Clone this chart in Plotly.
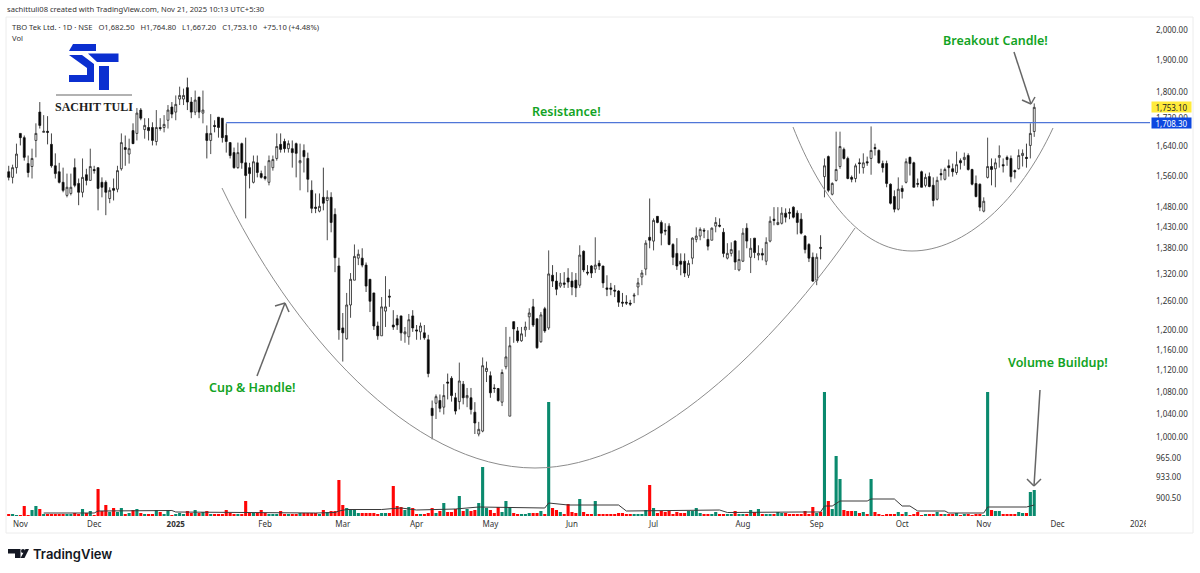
import math
import plotly.graph_objects as go

# daily bars (bar number is used as x so weekends don't leave gaps)
opens = [
    1571, 1556, 1582, 1677, 1665, 1593, 1585, 1657, 1739, 1680,
    1683, 1646, 1587, 1571, 1543, 1509, 1514, 1582, 1540, 1517,
    1563, 1548, 1577, 1582, 1543, 1543, 1501, 1527, 1525, 1579,
    1637, 1619, 1685, 1677, 1745, 1688, 1694, 1694, 1654, 1694,
    1694, 1715, 1754, 1739, 1778, 1778, 1813, 1769, 1739, 1784,
    1736, 1677, 1657, 1700, 1724, 1721, 1671, 1651, 1623, 1582,
    1648, 1595, 1582, 1543, 1595, 1566, 1558, 1543, 1582, 1607,
    1646, 1654, 1634, 1634, 1648, 1595, 1629, 1607, 1522, 1479,
    1469, 1504, 1496, 1504, 1461, 1338, 1204, 1182, 1252, 1306,
    1356, 1356, 1340, 1308, 1278, 1208, 1188, 1239, 1271, 1210,
    1223, 1229, 1192, 1186, 1229, 1200, 1196, 1194, 1180, 1050,
    1059, 1064, 1052, 1098, 1105, 1069, 1062, 1094, 1069, 1069,
    1043, 1005, 1010, 1118, 1110, 1087, 1086, 1061, 1127, 1036,
    1217, 1198, 1178, 1200, 1227, 1248, 1223, 1176, 1244, 1204,
    1317, 1304, 1293, 1300, 1311, 1304, 1306, 1295, 1372, 1324,
    1338, 1331, 1344, 1338, 1289, 1289, 1284, 1282, 1258, 1258,
    1256, 1271, 1291, 1313, 1331, 1405, 1396, 1456, 1441, 1422,
    1432, 1388, 1367, 1349, 1349, 1317, 1356, 1400, 1408, 1422,
    1400, 1398, 1432, 1434, 1417, 1356, 1367, 1396, 1329, 1349,
    1427, 1358, 1403, 1363, 1367, 1349, 1396, 1449, 1436, 1439,
    1464, 1466, 1479, 1464, 1449, 1408, 1388, 1358, 1306, 1381,
    1558, 1612, 1512, 1548, 1585, 1632, 1607, 1556, 1553, 1595,
    1582, 1598, 1607, 1637, 1629, 1593, 1593, 1538, 1506, 1474,
    1527, 1543, 1610, 1595, 1540, 1571, 1535, 1558, 1535, 1499,
    1566, 1551, 1587, 1579, 1569, 1601, 1604, 1615, 1577, 1540,
    1538, 1469, 1556, 1585, 1579, 1610, 1590, 1610, 1607, 1574,
    1579, 1615, 1610, 1643, 1682.5,
]
highs = [
    1587, 1590, 1648, 1677, 1671, 1615, 1634, 1706, 1769, 1730,
    1727, 1677, 1621, 1595, 1582, 1566, 1566, 1607, 1553, 1607,
    1579, 1634, 1587, 1582, 1556, 1548, 1530, 1553, 1587, 1677,
    1671, 1662, 1706, 1751, 1751, 1721, 1721, 1709, 1745, 1721,
    1730, 1760, 1769, 1789, 1816, 1810, 1844, 1784, 1804, 1784,
    1804, 1700, 1733, 1715, 1724, 1721, 1706, 1651, 1637, 1651,
    1651, 1665, 1595, 1615, 1615, 1574, 1587, 1615, 1615, 1677,
    1677, 1662, 1657, 1657, 1651, 1648, 1646, 1623, 1548, 1514,
    1514, 1582, 1522, 1517, 1476, 1357, 1235, 1278, 1322, 1388,
    1376, 1379, 1346, 1308, 1278, 1217, 1269, 1315, 1286, 1241,
    1231, 1229, 1206, 1233, 1241, 1210, 1215, 1210, 1190, 1064,
    1075, 1075, 1094, 1114, 1109, 1078, 1135, 1100, 1087, 1087,
    1061, 1026, 1145, 1137, 1118, 1094, 1087, 1122, 1206, 1186,
    1217, 1206, 1206, 1217, 1245, 1265, 1223, 1237, 1248, 1374,
    1340, 1324, 1322, 1324, 1333, 1324, 1322, 1386, 1374, 1340,
    1340, 1405, 1351, 1338, 1317, 1300, 1295, 1284, 1278, 1273,
    1263, 1278, 1311, 1329, 1398, 1501, 1451, 1456, 1446, 1439,
    1439, 1391, 1403, 1367, 1367, 1351, 1405, 1429, 1429, 1427,
    1422, 1429, 1454, 1451, 1427, 1391, 1393, 1398, 1374, 1427,
    1439, 1403, 1403, 1386, 1379, 1405, 1456, 1479, 1479, 1479,
    1476, 1476, 1481, 1471, 1464, 1410, 1391, 1369, 1367, 1410,
    1607, 1615, 1543, 1682, 1682, 1637, 1612, 1561, 1593, 1607,
    1621, 1612, 1697, 1648, 1632, 1601, 1601, 1540, 1522, 1556,
    1535, 1607, 1612, 1598, 1553, 1574, 1566, 1569, 1556, 1558,
    1579, 1582, 1604, 1593, 1626, 1607, 1623, 1621, 1579, 1561,
    1540, 1504, 1665, 1607, 1607, 1643, 1607, 1615, 1615, 1577,
    1632, 1632, 1648, 1706, 1764.8,
]
lows = [
    1548, 1540, 1566, 1643, 1601, 1556, 1553, 1610, 1691, 1680,
    1646, 1582, 1553, 1540, 1517, 1504, 1509, 1530, 1484, 1504,
    1535, 1548, 1566, 1471, 1504, 1459, 1489, 1496, 1517, 1574,
    1587, 1593, 1657, 1657, 1715, 1662, 1657, 1643, 1643, 1685,
    1680, 1691, 1721, 1715, 1760, 1760, 1745, 1721, 1730, 1721,
    1706, 1607, 1619, 1680, 1665, 1651, 1623, 1607, 1579, 1579,
    1579, 1451, 1527, 1540, 1556, 1553, 1548, 1535, 1574, 1601,
    1623, 1623, 1623, 1582, 1556, 1522, 1569, 1517, 1464, 1464,
    1466, 1471, 1398, 1417, 1324, 1180, 1137, 1180, 1225, 1306,
    1340, 1335, 1280, 1237, 1200, 1180, 1188, 1206, 1248, 1200,
    1200, 1178, 1174, 1170, 1196, 1180, 1180, 1180, 1107, 996,
    1031, 1043, 1039, 1066, 1062, 1039, 1048, 1057, 1052, 1039,
    1005, 1001, 1008, 1098, 1069, 1078, 1062, 1054, 1122, 1036,
    1174, 1174, 1176, 1186, 1200, 1206, 1162, 1174, 1194, 1200,
    1291, 1273, 1289, 1289, 1289, 1273, 1269, 1289, 1324, 1317,
    1311, 1322, 1329, 1289, 1271, 1273, 1269, 1248, 1248, 1252,
    1250, 1256, 1273, 1295, 1317, 1379, 1374, 1439, 1386, 1410,
    1386, 1340, 1329, 1317, 1313, 1311, 1342, 1393, 1398, 1403,
    1374, 1398, 1417, 1429, 1358, 1353, 1360, 1329, 1326, 1347,
    1379, 1322, 1356, 1351, 1351, 1340, 1393, 1434, 1434, 1436,
    1441, 1449, 1451, 1412, 1412, 1367, 1347, 1302, 1295, 1353,
    1504, 1517, 1509, 1545, 1579, 1604, 1551, 1543, 1543, 1566,
    1566, 1587, 1563, 1615, 1593, 1569, 1530, 1486, 1466, 1471,
    1501, 1540, 1561, 1530, 1530, 1530, 1530, 1530, 1481, 1496,
    1548, 1548, 1558, 1558, 1563, 1577, 1587, 1574, 1535, 1504,
    1469, 1466, 1553, 1535, 1530, 1582, 1569, 1587, 1543, 1553,
    1577, 1585, 1582, 1607, 1667.2,
]
closes = [
    1556, 1582, 1619, 1665, 1610, 1569, 1607, 1677, 1700, 1683,
    1680, 1587, 1566, 1543, 1522, 1530, 1530, 1535, 1517, 1556,
    1548, 1585, 1574, 1527, 1530, 1517, 1522, 1522, 1574, 1651,
    1632, 1634, 1648, 1736, 1721, 1700, 1685, 1657, 1694, 1691,
    1703, 1745, 1733, 1762, 1789, 1789, 1769, 1739, 1775, 1739,
    1745, 1657, 1677, 1697, 1694, 1665, 1654, 1615, 1582, 1623,
    1595, 1561, 1566, 1598, 1569, 1556, 1553, 1601, 1604, 1640,
    1632, 1634, 1648, 1623, 1621, 1601, 1612, 1551, 1476, 1476,
    1481, 1489, 1504, 1441, 1357, 1200, 1194, 1252, 1308, 1360,
    1365, 1340, 1293, 1260, 1208, 1188, 1248, 1248, 1269, 1206,
    1210, 1194, 1196, 1221, 1204, 1198, 1208, 1184, 1114, 1037,
    1071, 1050, 1073, 1096, 1073, 1045, 1100, 1069, 1073, 1048,
    1024, 1013, 1129, 1124, 1078, 1086, 1064, 1116, 1146, 1168,
    1202, 1178, 1192, 1206, 1235, 1210, 1164, 1231, 1198, 1320,
    1304, 1286, 1300, 1297, 1302, 1291, 1289, 1363, 1329, 1322,
    1322, 1340, 1338, 1300, 1286, 1286, 1282, 1258, 1256, 1256,
    1254, 1273, 1300, 1322, 1391, 1398, 1446, 1441, 1415, 1420,
    1388, 1358, 1338, 1342, 1322, 1344, 1403, 1408, 1424, 1420,
    1384, 1427, 1441, 1432, 1367, 1367, 1376, 1347, 1353, 1415,
    1396, 1379, 1369, 1367, 1363, 1393, 1444, 1446, 1441, 1464,
    1454, 1464, 1454, 1441, 1415, 1376, 1356, 1304, 1358, 1379,
    1587, 1522, 1540, 1577, 1640, 1607, 1553, 1551, 1587, 1593,
    1595, 1595, 1629, 1634, 1595, 1582, 1540, 1489, 1474, 1525,
    1519, 1598, 1593, 1530, 1538, 1530, 1556, 1532, 1496, 1548,
    1563, 1577, 1582, 1571, 1590, 1595, 1610, 1577, 1538, 1506,
    1479, 1494, 1585, 1577, 1595, 1615, 1587, 1604, 1558, 1571,
    1615, 1621, 1607, 1677, 1753.1,
]
# volume in lakh shares (only the relative heights can be read, the pane has no scale)
volume = [
    2, 2, 1, 1, 10, 1, 6, 10, 7, 2,
    2, 2, 2, 2, 2, 2, 2, 3, 2, 7,
    3, 5, 1, 27, 5, 11, 4, 8, 4, 8,
    2, 3, 6, 7, 3, 2, 2, 2, 6, 4,
    2, 6, 1, 2, 3, 2, 5, 3, 6, 3,
    4, 5, 2, 2, 2, 2, 6, 3, 2, 2,
    2, 15, 3, 3, 3, 6, 3, 2, 2, 2,
    5, 2, 2, 2, 2, 3, 3, 3, 3, 3,
    2, 6, 4, 5, 5, 36, 11, 8, 7, 6,
    3, 3, 3, 3, 3, 2, 3, 3, 3, 30,
    10, 9, 6, 9, 8, 2, 2, 2, 3, 8,
    3, 5, 13, 4, 4, 7, 20, 5, 7, 5,
    6, 13, 49, 8, 6, 3, 9, 4, 15, 9,
    3, 2, 2, 2, 3, 3, 3, 5, 2, 114,
    8, 6, 4, 2, 12, 4, 3, 17, 4, 2,
    2, 15, 2, 2, 2, 2, 2, 3, 3, 2,
    2, 2, 2, 2, 6, 31, 8, 3, 5, 4,
    5, 2, 4, 3, 3, 5, 5, 8, 3, 2,
    2, 2, 4, 2, 2, 2, 2, 5, 2, 2,
    2, 6, 4, 7, 2, 2, 2, 2, 4, 3,
    3, 2, 2, 2, 2, 5, 2, 9, 3, 4,
    124, 15, 7, 60, 37, 6, 5, 5, 5, 3,
    4, 2, 37, 4, 2, 1, 2, 2, 2, 4,
    2, 4, 1, 2, 4, 1, 2, 2, 2, 4,
    2, 2, 2, 2, 3, 1, 2, 2, 1, 2,
    2, 1, 124, 6, 5, 5, 2, 2, 2, 2,
    4, 3, 3, 24, 26,
]
# volume average line, read at the bars where it bends
vol_ma_bar = [9, 22, 23, 38, 42, 43, 58, 66, 71, 79, 84, 85, 87, 96, 99, 101, 105, 115, 121, 135,
              138, 139, 141, 144, 157, 159, 183, 185, 204, 209, 210, 212, 214, 221, 222, 228, 230,
              232, 234, 241, 242, 251, 252, 262, 264]
vol_ma = [3, 3, 5, 5, 5.5, 4, 3.5, 3.5, 3, 3, 3.5, 5, 6.5, 6.5, 7.5, 8, 6, 7, 9, 8.5,
          8, 13, 12, 11, 11, 5, 6, 3.5, 4, 4, 10, 10, 15, 15, 17, 17, 10,
          10, 5, 5, 3, 3, 9, 9, 11]

month_bars = [3, 22, 43, 66, 86, 105, 124, 145, 166, 189, 208, 230, 251, 270, 291]
month_labels = ['Nov', 'Dec', '<b>2025</b>', 'Feb', 'Mar', 'Apr', 'May', 'Jun', 'Jul', 'Aug',
                'Sep', 'Oct', 'Nov', 'Dec', '2026']
price_ticks = [2000, 1900, 1800, 1720, 1640, 1560, 1480, 1430, 1380, 1320, 1260, 1200, 1160,
               1120, 1080, 1040, 1000, 965, 933, 900.5]
resistance_bars = [56, 293.8]
resistance = [1708.30, 1708.30]
last_close = 1753.10

W, H = 1200, 573
GREEN = '#12a324'
ARROW = '#666666'
LOGO = '#0b2fd0'
GAP = '\u00a0\u00a0\u00a0'


# drawings and text on the picture are placed by window pixel
def px(x):
    return x / W


def py(y):
    return 1 - y / H


def path(points):
    return 'M ' + ' L '.join(f'{px(x)} {py(y)}' for x, y in points) + ' Z'


def curve(start, c1, c2, end):
    pts = [start, c1, c2, end]
    s = [f'{px(x)} {py(y)}' for x, y in pts]
    return f'M {s[0]} C {s[1]} {s[2]} {s[3]}'


def line(x0, y0, x1, y1, color=ARROW, width=1.5):
    return dict(type='line', xref='paper', yref='paper', x0=px(x0), y0=py(y0), x1=px(x1), y1=py(y1),
                line=dict(color=color, width=width))


def blob(points, color):
    return dict(type='path', xref='paper', yref='paper', path=path(points),
                fillcolor=color, line=dict(width=0))


def label(text, x, y, size, color='#333333', family='Noto Sans', anchor='left', **kw):
    return dict(text=text, x=px(x), y=py(y), xref='paper', yref='paper', showarrow=False,
                xanchor=anchor, yanchor='middle', font=dict(size=size, color=color, family=family, **kw))


fig = go.Figure()

fig.add_trace(go.Bar(
    x=list(range(len(volume))),
    y=volume,
    yaxis='y2',
    width=0.8,
    marker=dict(color=['#0a8a6e' if c >= o else '#ff0505' for o, c in zip(opens, closes)], line=dict(width=0)),
))
fig.add_trace(go.Scatter(x=vol_ma_bar, y=vol_ma, yaxis='y2', mode='lines', line=dict(color='#3a3a3a', width=1)))

fig.add_trace(go.Scatter(x=resistance_bars, y=resistance, mode='lines', line=dict(color='#4f76d8', width=1.2)))

fig.add_trace(go.Candlestick(
    x=list(range(len(opens))),
    open=opens,
    high=highs,
    low=lows,
    close=closes,
    whiskerwidth=0,
    increasing=dict(line=dict(color='#222222', width=0.8), fillcolor='#ffffff'),
    decreasing=dict(line=dict(color='#111111', width=0.8), fillcolor='#000000'),
))

shapes = [
    # chart frame
    dict(type='rect', xref='paper', yref='paper', x0=px(6), y0=py(17), x1=px(1193), y1=py(533),
         line=dict(color='#ececec', width=1), layer='below'),
    # cup and handle outlines
    dict(type='path', xref='paper', yref='paper', line=dict(color='#8c8c8c', width=1),
         path=curve((222, 188), (290, 330), (410, 468), (535, 468))),
    dict(type='path', xref='paper', yref='paper', line=dict(color='#8c8c8c', width=1),
         path=curve((535, 468), (650, 468), (775, 345), (855, 228))),
    dict(type='path', xref='paper', yref='paper', line=dict(color='#8c8c8c', width=1),
         path=curve((793, 127), (820, 195), (860, 251), (912, 251))),
    dict(type='path', xref='paper', yref='paper', line=dict(color='#8c8c8c', width=1),
         path=curve((912, 251), (965, 251), (1020, 200), (1053, 128))),
    # arrows
    line(257, 376, 285, 303), line(275, 306, 285, 303), line(289, 312, 285, 303),
    line(1014, 52, 1031, 104), line(1022, 100, 1031, 104), line(1035, 97, 1031, 104),
    line(1040, 390, 1034, 486), line(1027, 479, 1034, 486), line(1041, 479, 1034, 486),
    # hides the end of the clipped 2026 label
    dict(type='rect', xref='paper', yref='paper', x0=px(1146), y0=py(518), x1=px(1192), y1=py(531),
         fillcolor='#ffffff', line=dict(width=0), layer='above'),
    # ST logo
    blob([(73, 44), (96, 44), (96, 51), (69, 51)], LOGO),
    blob([(69, 55), (82, 55), (94, 64), (94, 82), (69, 82), (69, 75), (87, 75), (87, 68)], LOGO),
    blob([(88, 53.5), (118.5, 53.5), (118.5, 62), (97, 62)], LOGO),
    blob([(99, 66), (109, 66), (109, 90), (99, 90)], LOGO),
    line(56, 95, 132, 95, color='#999999', width=1.6),
    # TradingView logo
    blob([(8, 549), (20.5, 549), (20.5, 558), (15, 558), (15, 553.5), (8, 553.5)], '#131722'),
    dict(type='circle', xref='paper', yref='paper', x0=px(21), y0=py(549), x1=px(25), y1=py(553),
         fillcolor='#131722', line=dict(width=0)),
    blob([(25.5, 549), (29, 549), (24.5, 558), (20.5, 558)], '#131722'),
]

annotations = [
    label('sachittuli08 created with TradingView.com, Nov 21, 2025 10:13 UTC+5:30', 5, 9.5, 7.6),
    label(f'TBO Tek Ltd. · 1D · NSE{GAP}O1,682.50{GAP}H1,764.80{GAP}L1,667.20{GAP}C1,753.10{GAP}+75.10 (+4.48%)',
          10, 27, 7.6),
    label('Vol', 10, 38, 7.6),
    label('SACHIT TULI', 94, 107, 12, color='#1c1c1c', family='Liberation Serif', anchor='center', weight='bold'),
    label('Breakout Candle!', 995, 40, 12.5, color=GREEN, anchor='center', weight=600),
    label('Resistance!', 566, 111, 12.5, color=GREEN, anchor='center', weight=600),
    label('Cup &amp; Handle!', 252, 387, 12.5, color=GREEN, anchor='center', weight=600),
    label('Volume Buildup!', 1058, 362, 12.5, color=GREEN, anchor='center', weight=600),
    label('TradingView', 31, 553.5, 13, color='#131722', family='Inter', weight=600),
    # last price and level tags on the price scale
    dict(text=f'{last_close:,.2f}', x=px(1151), y=math.log10(last_close), xref='paper', yref='y', showarrow=False,
         xanchor='left', yanchor='middle', width=39, height=10, borderpad=0, align='center', bgcolor='#ffeb3b',
         font=dict(size=8, color='#222222', family='Noto Sans')),
    dict(text=f'{resistance[0]:,.2f}', x=px(1151), y=math.log10(resistance[0]), xref='paper', yref='y', showarrow=False,
         xanchor='left', yanchor='middle', width=39, height=10, borderpad=0, align='center', bgcolor='#0d47e0',
         font=dict(size=8, color='#ffffff', family='Noto Sans')),
]

fig.update_layout(
    width=W,
    height=H,
    margin=dict(l=0, r=0, t=0, b=0),
    paper_bgcolor='white',
    plot_bgcolor='white',
    showlegend=False,
    bargap=0.25,
    shapes=shapes,
    annotations=annotations,
    xaxis=dict(
        domain=[px(7), px(1150)],
        range=[-0.44, 293.8],
        rangeslider=dict(visible=False),
        showgrid=False,
        zeroline=False,
        showline=False,
        tickmode='array',
        tickvals=month_bars,
        ticktext=month_labels,
        ticks='',
        ticklabelstandoff=2,
        tickfont=dict(size=8, color='#333333', family='Noto Sans'),
    ),
    yaxis=dict(
        type='log',
        domain=[py(516), py(18)],
        range=[math.log10(874.0), math.log10(2041.3)],
        side='right',
        showgrid=False,
        zeroline=False,
        showline=False,
        tickmode='array',
        tickvals=price_ticks,
        ticktext=[f'{v:,.2f}' for v in price_ticks],
        ticks='',
        ticklabelstandoff=5,
        tickfont=dict(size=8, color='#333333', family='Noto Sans'),
    ),
    yaxis2=dict(
        domain=[py(516), py(18)],
        range=[0, 498],
        overlaying='y',
        visible=False,
    ),
)

# the browser's default body margin would push the figure 8px down and right
fig.write_html("out.html", post_script="document.body.style.margin = '0';", config=dict(displayModeBar=False))
